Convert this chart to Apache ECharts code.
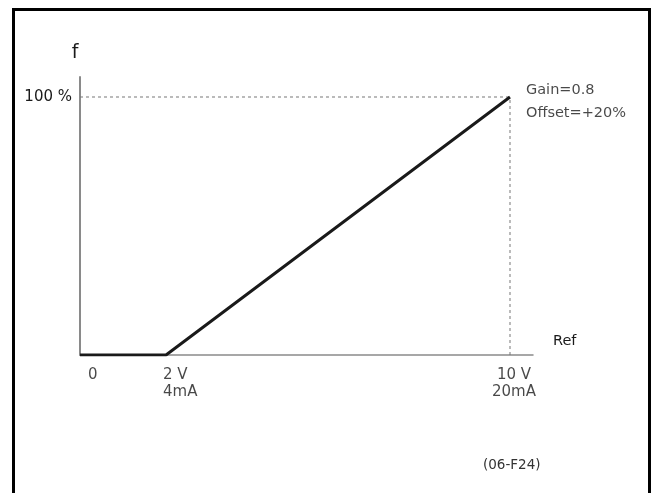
<!DOCTYPE html>
<html>
<head>
<meta charset="utf-8">
<script src="https://cdn.jsdelivr.net/npm/echarts@6/dist/echarts.min.js"></script>
<style>
html,body{margin:0;padding:0;background:#fff;}
#chart{width:652px;height:493px;}
</style>
</head>
<body>
<div id="chart"></div>
<script>
// Data
var refValues = [0, 2, 10];          // Ref (V)
var fValues = [0, 0, 100];           // f (%)
var xTickValues = [0, 2, 10];
var xTickLabels = ['0', '2 V\n4mA', '10 V\n20mA'];
var yTickValues = [100];
var yTickLabels = ['100 %'];
var annotation = 'Gain=0.8\nOffset=+20%';
var figureId = '(06-F24)';

var FONT = 'DejaVu Sans';
var TXT = '#1a1a1a';
var chart = echarts.init(document.getElementById('chart'));

var xLabelStyle = [
  {position: [8, 12], align: 'left'},
  {position: [-3, 12], align: 'left'},
  {position: [4, 12], align: 'center'}
];

var option = {
  animation: false,
  backgroundColor: '#fff',
  grid: {left: 80, right: 119, top: 77, bottom: 138},
  xAxis: {
    type: 'value', min: 0, max: 10.535,
    name: 'Ref', nameLocation: 'end', nameGap: 20,
    nameTextStyle: {fontFamily: FONT, fontSize: 14.5, color: TXT, verticalAlign: 'bottom', padding: [0, 0, 6, 0]},
    axisLine: {show: true, lineStyle: {color: '#8a8a8a', width: 1.5}},
    axisTick: {show: false}, axisLabel: {show: false}, splitLine: {show: false}
  },
  yAxis: {
    type: 'value', min: 0, max: 107.75,
    name: 'f', nameLocation: 'end', nameGap: 14,
    nameTextStyle: {fontFamily: FONT, fontSize: 19, color: TXT, padding: [0, 10, 0, 0]},
    axisLine: {show: true, lineStyle: {color: '#8a8a8a', width: 2}},
    axisTick: {show: false}, splitLine: {show: false},
    axisLabel: {
      customValues: yTickValues,
      formatter: function (v) { var i = yTickValues.indexOf(v); return i >= 0 ? yTickLabels[i] : ''; },
      margin: 8, fontFamily: FONT, fontSize: 15, color: TXT
    }
  },
  series: [
    {
      type: 'line', name: 'guideH', silent: true, showSymbol: false, z: 1,
      data: [[refValues[0], fValues[2]], [refValues[2], fValues[2]]],
      lineStyle: {color: '#777', width: 1, type: [3, 3]}
    },
    {
      type: 'line', name: 'guideV', silent: true, showSymbol: false, z: 1,
      data: [[refValues[2], 0], [refValues[2], fValues[2]]],
      lineStyle: {color: '#777', width: 1, type: [3, 3]}
    },
    {
      type: 'line', name: 'f', showSymbol: false, z: 5,
      data: refValues.map(function (x, i) { return [x, fValues[i]]; }),
      lineStyle: {color: '#1a1a1a', width: 3}
    },
    {
      type: 'scatter', name: 'annotation', symbolSize: 0, z: 6, silent: true,
      itemStyle: {color: '#000'},
      data: [[refValues[2], fValues[2]]],
      label: {
        show: true, formatter: annotation, position: [16, 5], align: 'left', verticalAlign: 'middle',
        fontFamily: FONT, fontSize: 14.5, color: TXT, lineHeight: 23
      }
    },
    {
      type: 'scatter', name: 'xTicks', symbolSize: 0, z: 6, silent: true,
      itemStyle: {color: '#000'},
      data: xTickValues.map(function (v, i) {
        return {
          value: [v, 0],
          label: {
            show: true, formatter: xTickLabels[i], position: xLabelStyle[i].position,
            align: xLabelStyle[i].align, verticalAlign: 'top',
            fontFamily: FONT, fontSize: 15, color: TXT, lineHeight: 17
          }
        };
      })
    }
  ],
  graphic: [
    {type: 'rect', z: 100, shape: {x: 13.5, y: 9.5, width: 636, height: 500}, style: {fill: 'none', stroke: '#000', lineWidth: 3}},
    {type: 'text', z: 100, left: 483, top: 458, style: {text: figureId, font: '13.5px "DejaVu Sans"', fill: '#333'}}
  ]
};
chart.setOption(option);
</script>
</body>
</html>
